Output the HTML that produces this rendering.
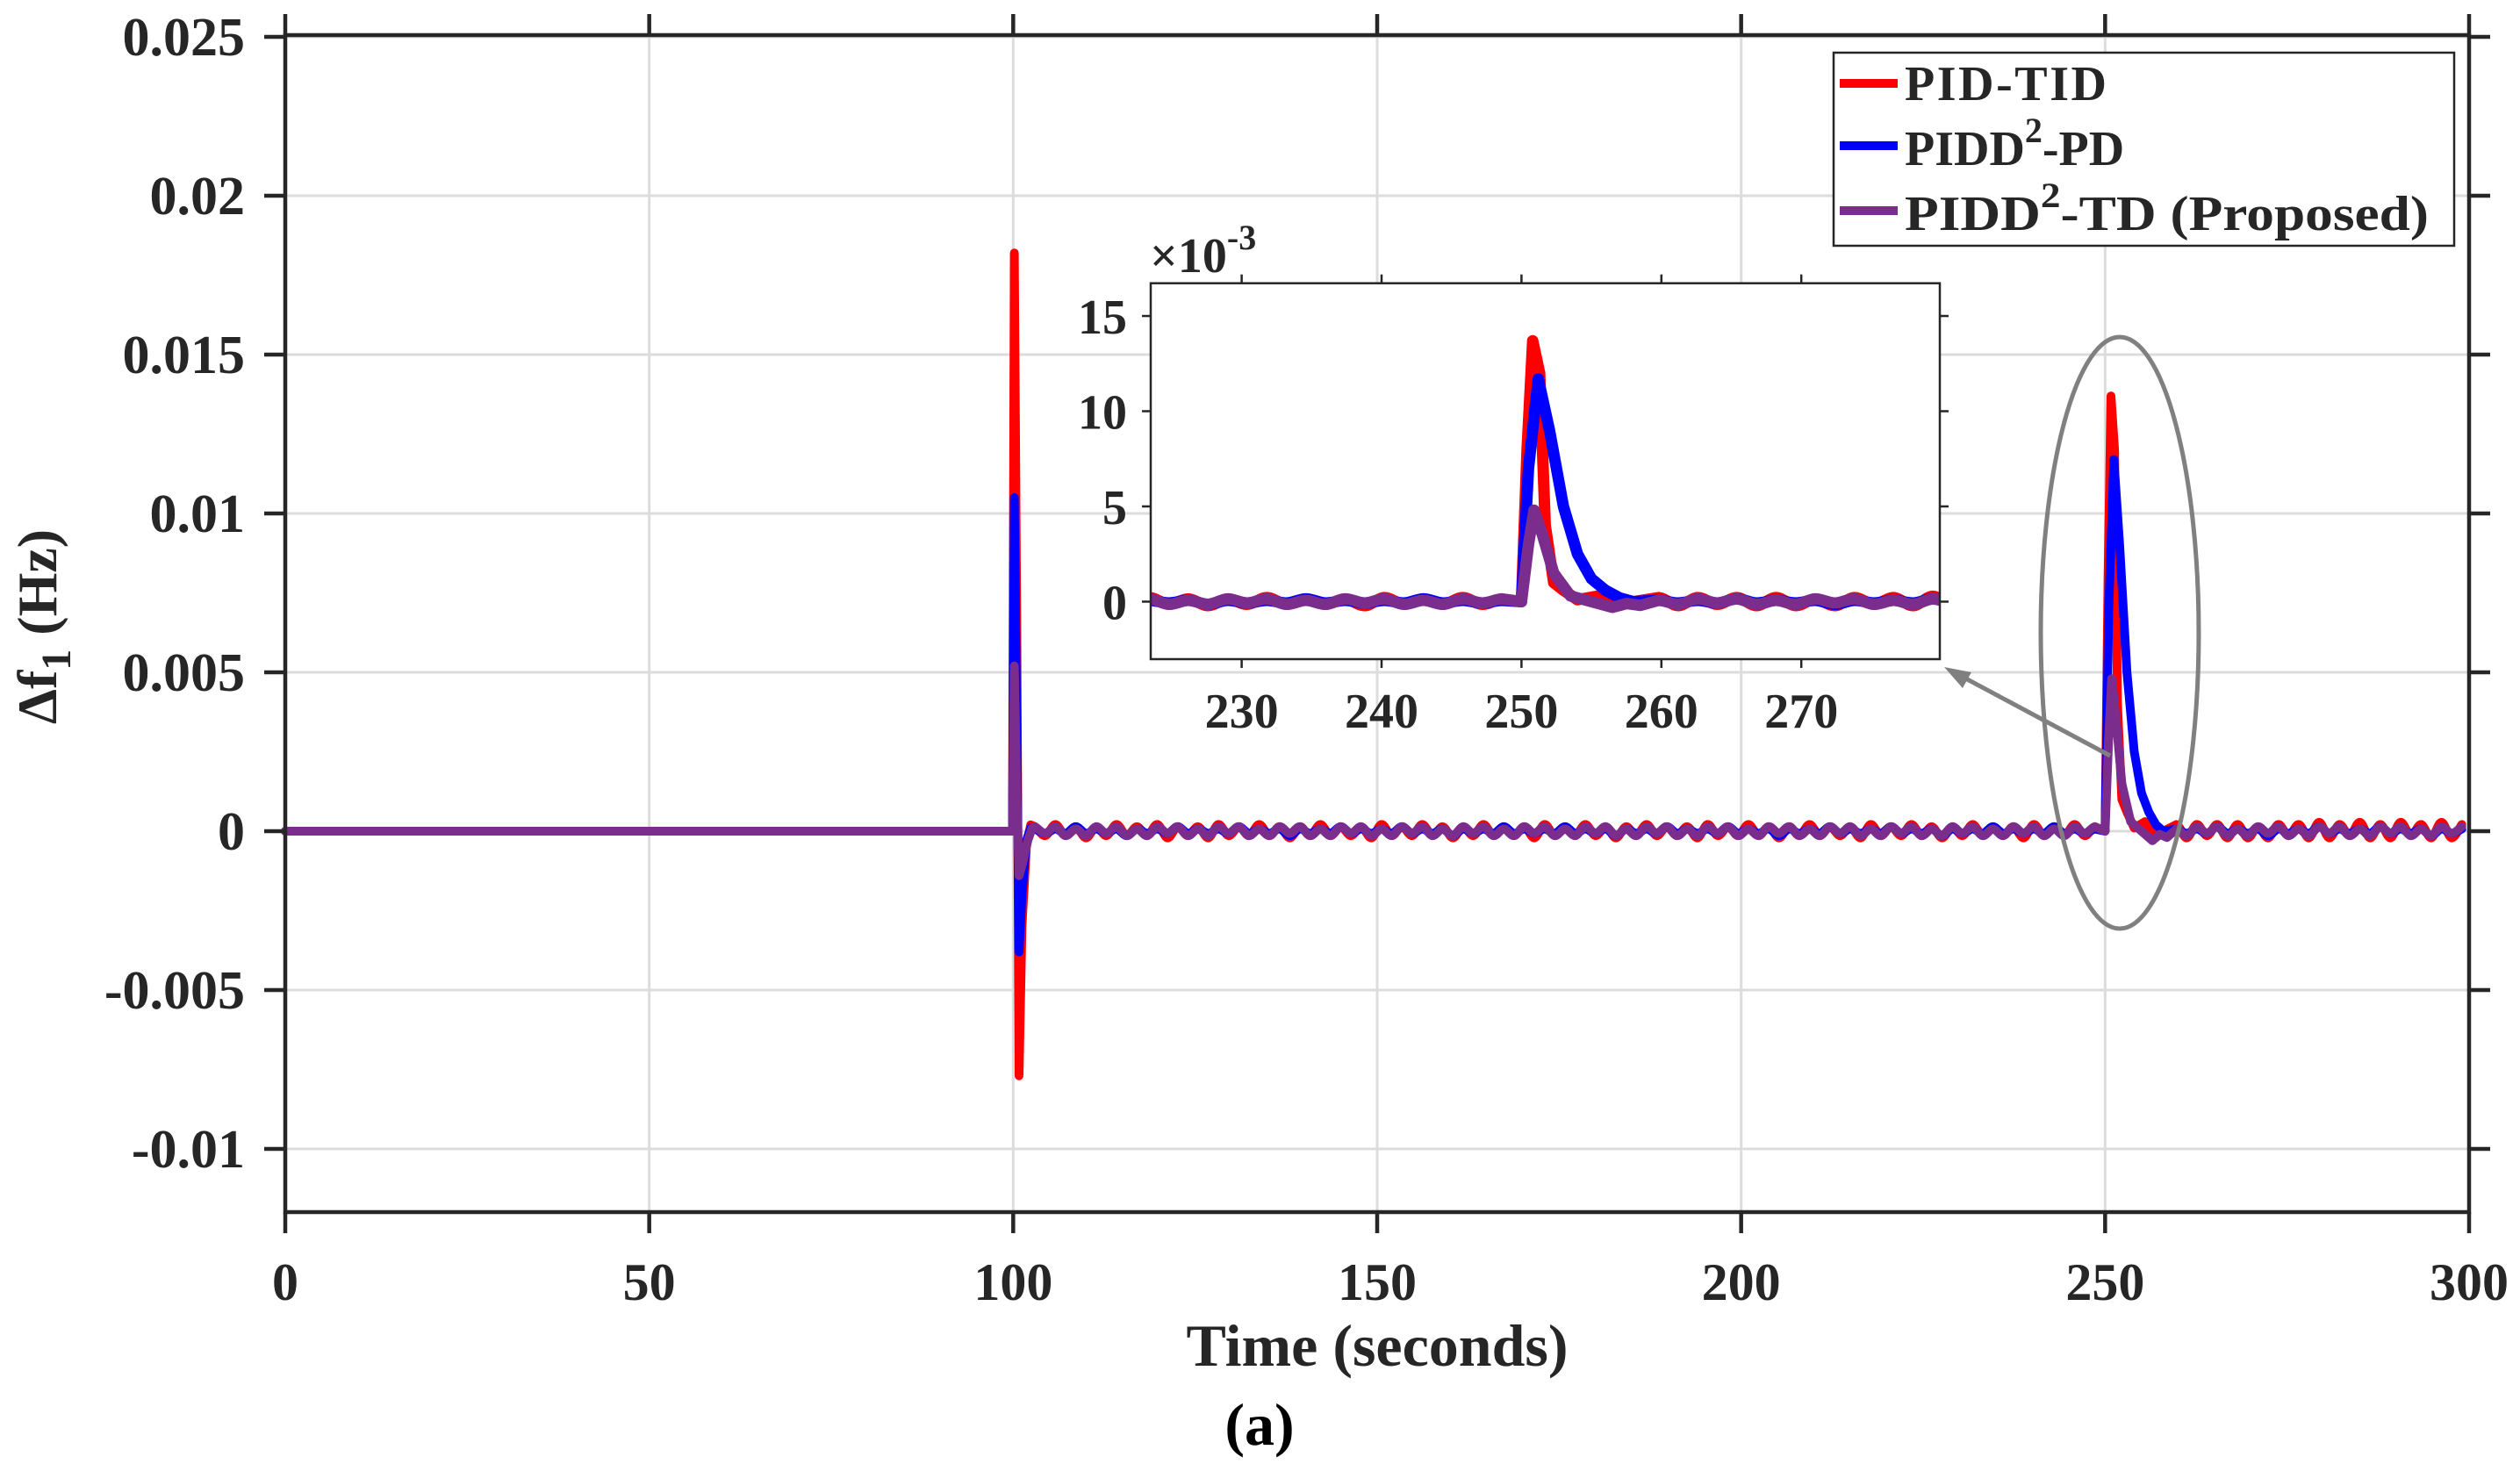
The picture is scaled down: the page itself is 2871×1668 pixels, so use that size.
<!DOCTYPE html>
<html><head><meta charset="utf-8"><style>
html,body{margin:0;padding:0;background:#fff;}
svg{display:block;font-family:"Liberation Serif",serif;font-weight:bold;}
</style></head><body>
<svg id="chart" width="2871" height="1668" viewBox="0 0 2871 1668" xmlns="http://www.w3.org/2000/svg">
<rect width="2871" height="1668" fill="#fff"/>
<g id="grid"></g>
<g id="series"></g>
<g id="axes"></g>
<ellipse cx="2415" cy="721" rx="90" ry="337" fill="none" stroke="#808080" stroke-width="5"/>
<line x1="2404" y1="861" x2="2232" y2="769" stroke="#808080" stroke-width="5"/>
<polygon points="2215,760 2246,766 2236,784" fill="#808080"/>
<g id="inset"></g>
<g id="legend">
  <rect x="2089" y="60" width="707" height="220" fill="#fff" stroke="#262626" stroke-width="2.5"/>
  <line x1="2096" y1="95" x2="2162" y2="95" stroke="#ff0000" stroke-width="10"/>
  <text x="2170" y="114" font-size="56" fill="#262626" textLength="230">PID-TID</text>
  <line x1="2096" y1="166" x2="2162" y2="166" stroke="#0000ff" stroke-width="10"/>
  <text x="2170" y="188" font-size="56" fill="#262626">PIDD<tspan dy="-26" font-size="40">2</tspan><tspan dy="26">-PD</tspan></text>
  <line x1="2096" y1="240" x2="2162" y2="240" stroke="#7b2d8e" stroke-width="10"/>
  <text x="2170" y="262" font-size="56" fill="#262626" textLength="597" lengthAdjust="spacingAndGlyphs">PIDD<tspan dy="-26" font-size="40">2</tspan><tspan dy="26">-TD (Proposed)</tspan></text>
</g>
<text transform="translate(64,714) rotate(-90)" text-anchor="middle" font-size="64" fill="#262626">Δf<tspan dy="16" font-size="48">1</tspan><tspan dy="-16"> (Hz)</tspan></text>
<text x="1569" y="1556" text-anchor="middle" font-size="68" fill="#262626">Time (seconds)</text>
<text x="1435" y="1646" text-anchor="middle" font-size="68" fill="#000">(a)</text>
</svg>
<script>
// ---- data (transient values in units of 1e-4 Hz; ripple in units of 0.7e-4 Hz) ----
const xTicks = [0,50,100,150,200,250,300];
const yTicks = [-0.01,-0.005,0,0.005,0.01,0.015,0.02,0.025];
const yTickLabels = ["-0.01","-0.005","0","0.005","0.01","0.015","0.02","0.025"];
const insetXTicks = [230,240,250,260,270];
const insetYTicks = [0,5,10,15];
const rippleStart = 103, rippleStep = 1.4;
const redRipple = [2,-2,3,-2,2,-3,2,-2,3,-2,2,-2,3,-3,2,-2,2,-3,3,-2,2,-2,3,-2,2,-3,2,-2,3,-2,2,-2,2,-3,3,-2,2,-2,3,-2,2,-3,2,-2,3,-2,2,-2,2,-3,3,-2,2,-2,3,-2,2,-3,2,-2,3,-2,2,-2,2,-3,3,-2,2,-2,3,-2,2,-3,2,-2,3,-2,2,-2,2,-3,3,-2,2,-2,3,-2,2,-3,2,-2,3,-2,2,-2,2,-3,3,-2,2,-2,3,-2,2,-3,2,-2,3,-3,3,-2,3,-3,3,-2,3,-3,3,-3,2,-3,3,-2,3,-3,4,-3,3,-2,4,-3,3,-3,4,-2,3,-3,4,-3,3,-2,4];
const blueRipple = [1,-1,1,-1,2,-1,1,-1,1,-2,1,-1,1,-1,2,-1,1,-1,1,-1,2,-1,1,-1,1,-2,1,-1,1,-1,2,-1,1,-1,1,-1,2,-1,1,-1,1,-2,1,-1,1,-1,2,-1,1,-1,1,-1,2,-1,1,-1,1,-2,1,-1,1,-1,2,-1,1,-1,1,-1,2,-1,1,-1,1,-2,1,-1,1,-1,2,-1,1,-1,1,-1,2,-1,1,-1,1,-2,1,-1,1,-1,2,-1,1,-1,1,-1,2,-1,1,-1,1,-2,1,-1,1,-1,2,-1,1,-1,1,-1,2,-1,1,-1,1,-2,1,-1,1,-1,2,-1,1,-1,1,-1,2,-1,1,-1,1,-2,1,-1,1,-1,2];
const purpleRipple = [2,-1,2,-2,1,-2,2,-1,2,-2,1,-2,2,-1,2,-2,1,-2,2,-1,2,-2,1,-2,2,-1,2,-2,1,-2,2,-1,2,-2,1,-2,2,-1,2,-2,1,-2,2,-1,2,-2,1,-2,2,-1,2,-2,1,-2,2,-1,2,-2,1,-2,2,-1,2,-2,1,-2,2,-1,2,-2,1,-2,2,-1,2,-2,1,-2,2,-1,2,-2,1,-2,2,-1,2,-2,1,-2,2,-1,2,-2,1,-2,2,-1,2,-2,1,-2,2,-1,2,-2,1,-2,2,-1,2,-2,1,-2,2,-1,2,-2,1,-2,2,-1,2,-2,1,-2,2,-1,2,-2,1,-2,2,-1,2,-2,1,-2,2,-1,2,-2,1];
const redT1 = [0,99.9,100.15,100.5,100.8,101.2,101.8,102.4];
const redV1 = [0,0,182,60,-77,-30,-5,2];
const blueT1 = [0,99.9,100.15,100.5,100.8,101.2,101.8,102.4];
const blueV1 = [0,0,105,30,-38,-20,-3,1];
const purpleT1 = [0,99.9,100.15,100.5,100.8,101.3,102,102.6];
const purpleV1 = [0,0,52,10,-14,-10,-3,1];
const redT2 = [250,250.4,250.8,251.3,251.7,252.3,253,254,255.5,257,258];
const redV2 = [0,80,137,120,40,10,6,1,3,-2,0];
const blueT2 = [250,250.5,251.2,252,253,254,255,256,257,258];
const blueV2 = [0,70,117,90,50,25,12,6,2,0];
const purpleT2 = [250,250.5,250.9,251.5,252.3,253.5,255,256.5,257.5,258.5];
const purpleV2 = [0,30,48,35,15,3,0,-3,-1,-2];

// ---- scales ----
const X0=325,X1=2813,Y0=947,YPER=181/0.005;
const sx=t=>X0+(t)/300*(X1-X0);
const sy=v=>Y0-v*YPER;
const IX0=1311,IX1=2210,IY0=322.7,IY1=751;
const ixmin=223.5,ixmax=279.9,iymin=-3.02,iymax=16.72;
const isx=t=>IX0+(t-ixmin)/(ixmax-ixmin)*(IX1-IX0);
const isy=v=>IY1-(v-iymin)/(iymax-iymin)*(IY1-IY0);
const NS="http://www.w3.org/2000/svg";
function mk(tag,attrs,parent){const e=document.createElementNS(NS,tag);for(const k in attrs)e.setAttribute(k,attrs[k]);parent.appendChild(e);return e;}

function buildSeries(ripple,t1,v1,t2,v2){
  const pts=[];
  for(let i=0;i<t1.length;i++)pts.push([t1[i],v1[i]*1e-4,1]);
  for(let i=0;i<t2.length;i++)pts.push([t2[i],v2[i]*1e-4,1]);
  for(let i=0;i<ripple.length;i++){const t=rippleStart+i*rippleStep;if(t>300)break;
    if((t>=99.5&&t<103)||(t>=249.6&&t<259))continue;pts.push([t,ripple[i]*0.7e-4,0]);}
  pts.sort((a,b)=>a[0]-b[0]);
  return pts;
}
// smooth path (Catmull-Rom) for ripple regions, straight for transients
function pathD(pts,fx,fy){
  const P=pts.map(p=>[fx(p[0]),fy(p[1]),p[2]]);
  let d='M'+P[0][0].toFixed(1)+','+P[0][1].toFixed(1);
  for(let i=0;i<P.length-1;i++){
    const a=P[Math.max(0,i-1)],b=P[i],c=P[i+1],e=P[Math.min(P.length-1,i+2)];
    if(b[2]||c[2]){d+='L'+c[0].toFixed(1)+','+c[1].toFixed(1);continue;}
    const c1x=b[0]+(c[0]-a[0])/6,c1y=b[1]+(c[1]-a[1])/6,c2x=c[0]-(e[0]-b[0])/6,c2y=c[1]-(e[1]-b[1])/6;
    d+='C'+c1x.toFixed(1)+','+c1y.toFixed(1)+' '+c2x.toFixed(1)+','+c2y.toFixed(1)+' '+c[0].toFixed(1)+','+c[1].toFixed(1);
  }
  return d;
}
const seriesList=[
 {name:'pid-tid',color:'#ff0000',pts:buildSeries(redRipple,redT1,redV1,redT2,redV2)},
 {name:'pidd2-pd',color:'#0000ff',pts:buildSeries(blueRipple,blueT1,blueV1,blueT2,blueV2)},
 {name:'pidd2-td',color:'#7b2d8e',pts:buildSeries(purpleRipple,purpleT1,purpleV1,purpleT2,purpleV2)}
];

// grid
const grid=document.getElementById('grid');
xTicks.forEach(t=>{const l=mk('line',{x1:sx(t),x2:sx(t),y1:40,y2:1381,stroke:'#dcdcdc','stroke-width':3},grid);

});
yTicks.forEach(v=>{const l=mk('line',{x1:X0,x2:X1,y1:sy(v),y2:sy(v),stroke:'#dcdcdc','stroke-width':3},grid);

});

// series
const sg=document.getElementById('series');
seriesList.forEach(s=>{
  const p=mk('path',{d:pathD(s.pts,sx,sy),fill:'none',stroke:s.color,'stroke-width':10,'stroke-linejoin':'round','stroke-linecap':'round'},sg);
  
  
});

// axes
const ax=document.getElementById('axes');
const box=mk('rect',{x:X0,y:40,width:X1-X0,height:1381-40,fill:'none',stroke:'#262626','stroke-width':4.5},ax);


xTicks.forEach(t=>{
  mk('line',{x1:sx(t),x2:sx(t),y1:1381,y2:1405,stroke:'#262626','stroke-width':4.5},ax);
  mk('line',{x1:sx(t),x2:sx(t),y1:16,y2:40,stroke:'#262626','stroke-width':4.5},ax);
  const tx=mk('text',{x:sx(t),y:1481,'text-anchor':'middle','font-size':60,fill:'#262626'},ax);
  tx.textContent=t;
  
  
});
yTicks.forEach((v,i)=>{
  mk('line',{x1:X0-24,x2:X0,y1:sy(v),y2:sy(v),stroke:'#262626','stroke-width':4.5},ax);
  mk('line',{x1:X1,x2:X1+24,y1:sy(v),y2:sy(v),stroke:'#262626','stroke-width':4.5},ax);
  const tx=mk('text',{x:279,y:sy(v)+21,'text-anchor':'end','font-size':62,fill:'#262626'},ax);
  tx.textContent=yTickLabels[i];
  
  
});

// inset
const ins=document.getElementById('inset');
const ibg=mk('rect',{x:IX0,y:IY0,width:IX1-IX0,height:IY1-IY0,fill:'#fff'},ins);


const defs=mk('defs',{},ins);
const cp=mk('clipPath',{id:'iclip'},defs);
mk('rect',{x:IX0,y:IY0,width:IX1-IX0,height:IY1-IY0},cp);
const ig=mk('g',{'clip-path':'url(#iclip)'},ins);
seriesList.forEach(s=>{
  const pts=s.pts.filter(p=>p[0]>=ixmin-3&&p[0]<=ixmax+3);
  const p=mk('path',{d:pathD(pts,isx,v=>isy(v*1000)),fill:'none',stroke:s.color,'stroke-width':13,'stroke-linejoin':'round','stroke-linecap':'round'},ig);
  
  
});
const ifr=mk('rect',{x:IX0,y:IY0,width:IX1-IX0,height:IY1-IY0,fill:'none',stroke:'#262626','stroke-width':2.5},ins);


insetXTicks.forEach(t=>{
  mk('line',{x1:isx(t),x2:isx(t),y1:IY1,y2:IY1+10,stroke:'#262626','stroke-width':2.5},ins);
  mk('line',{x1:isx(t),x2:isx(t),y1:IY0-10,y2:IY0,stroke:'#262626','stroke-width':2.5},ins);
  const tx=mk('text',{x:isx(t),y:829,'text-anchor':'middle','font-size':56,fill:'#262626'},ins);
  tx.textContent=t;
  
  
});
insetYTicks.forEach(v=>{
  mk('line',{x1:IX0-10,x2:IX0,y1:isy(v),y2:isy(v),stroke:'#262626','stroke-width':2.5},ins);
  mk('line',{x1:IX1,x2:IX1+10,y1:isy(v),y2:isy(v),stroke:'#262626','stroke-width':2.5},ins);
  const tx=mk('text',{x:1284,y:isy(v)+20,'text-anchor':'end','font-size':56,fill:'#262626'},ins);
  tx.textContent=v;
  
  
});
const ex=mk('text',{x:1310,y:310,'font-size':56,fill:'#262626'},ins);
ex.innerHTML='×10<tspan dy="-26" font-size="40">-3</tspan>';


</script>
</body></html>
